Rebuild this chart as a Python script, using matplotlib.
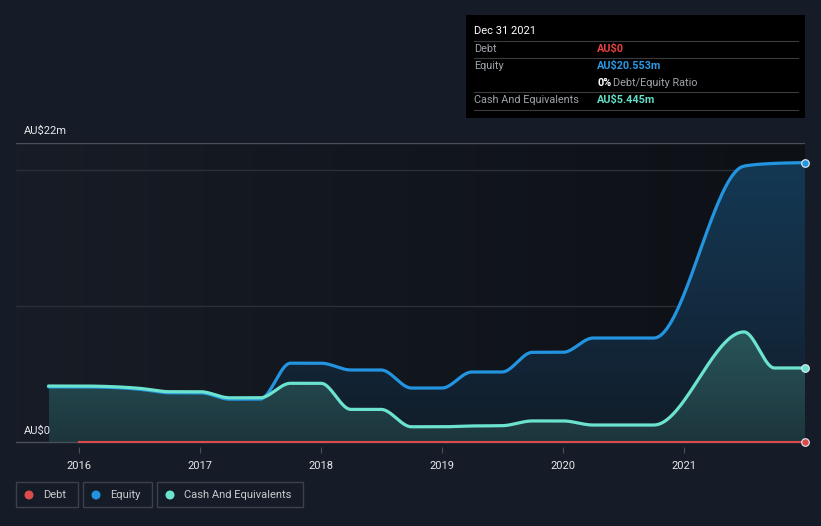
import numpy as np
import pandas as pd
import matplotlib
matplotlib.use("Agg")
import matplotlib.pyplot as plt
from matplotlib.colors import LinearSegmentedColormap
from matplotlib.patches import PathPatch, Rectangle, Ellipse
from matplotlib.path import Path

plt.rcParams['font.family'] = ['Roboto', 'DejaVu Sans']

# -------- DATA (AU$ millions, report dates) --------
fechas = ["2015-09-30", "2015-12-31", "2016-03-31", "2016-06-30", "2016-09-30",
          "2016-12-31", "2017-03-31", "2017-06-30", "2017-09-30", "2017-12-31",
          "2018-03-31", "2018-06-30", "2018-09-30", "2018-12-31", "2019-03-31",
          "2019-06-30", "2019-09-30", "2019-12-31", "2020-03-31", "2020-06-30",
          "2020-09-30", "2021-06-30", "2021-09-30", "2021-12-31"]
equity = [4.05, 4.05, 4.02, 3.88, 3.62, 3.62, 3.15, 3.15, 5.8, 5.8,
          5.3, 5.3, 3.97, 3.97, 5.15, 5.15, 6.6, 6.6, 7.65, 7.65,
          7.65, 20.3, 20.5, 20.553]
cash = [4.12, 4.12, 4.08, 3.95, 3.7, 3.7, 3.25, 3.25, 4.32, 4.32,
        2.4, 2.4, 1.12, 1.12, 1.18, 1.2, 1.55, 1.55, 1.25, 1.25,
        1.25, 8.1, 5.445, 5.445]
debt_fechas = fechas[1:]
debt = [0.0] * len(debt_fechas)

year_ticks = [2016, 2017, 2018, 2019, 2020, 2021]
y_max = 22

W, H = 821, 526
BG = "#161c27"
C_DEBT = "#dc4b4b"
C_EQ = "#2394df"
C_CASH = "#6ce3cf"


def dec_year(fs):
    d = pd.to_datetime(pd.Series(fs))
    return (d.dt.year + d.dt.dayofyear / 365.0).to_numpy()


def monotone(x, y, n=40):
    # misma logica que d3.curveMonotoneX
    x = np.asarray(x, float)
    y = np.asarray(y, float)
    h = np.diff(x)
    s = np.diff(y) / h
    m = np.zeros_like(y)
    for i in range(1, len(y) - 1):
        p = (s[i - 1] * h[i] + s[i] * h[i - 1]) / (h[i - 1] + h[i])
        m[i] = (np.sign(s[i - 1]) + np.sign(s[i])) * min(abs(s[i - 1]), abs(s[i]), 0.5 * abs(p))
    m[0] = (3 * s[0] - m[1]) / 2
    m[-1] = (3 * s[-1] - m[-2]) / 2
    xs, ys = [], []
    for i in range(len(h)):
        t = np.linspace(0, 1, n, endpoint=False)
        h00 = 2 * t**3 - 3 * t**2 + 1
        h10 = t**3 - 2 * t**2 + t
        h01 = -2 * t**3 + 3 * t**2
        h11 = t**3 - t**2
        xs.append(x[i] + t * h[i])
        ys.append(h00 * y[i] + h10 * h[i] * m[i] + h01 * y[i + 1] + h11 * h[i] * m[i + 1])
    xs.append([x[-1]])
    ys.append([y[-1]])
    return np.concatenate(xs), np.concatenate(ys)


def px(x, y):
    return x / W, 1 - y / H


x = dec_year(fechas)
xd = dec_year(debt_fechas)

# pixeles: 2016 -> 79, 2022 -> 805
ppy = (805 - 79) / 6.0
x_right = x[-1]
x_left = 2016 - (79 - 16) / ppy
ppm = (442 - 143) / y_max
y_bot = -(447 - 442) / ppm

fig = plt.figure(figsize=(W / 100, H / 100), dpi=100, facecolor=BG)
ax = fig.add_axes([16 / W, (H - 447) / H, (805 - 16) / W, (447 - 143) / H])
ax.set_facecolor(BG)

# fondo del area del grafico (degradado horizontal)
bg_cmap = LinearSegmentedColormap.from_list("bg", ["#171c26", "#0d1015"])
ax.imshow(np.linspace(0, 1, 256).reshape(1, -1), cmap=bg_cmap, aspect="auto",
          extent=[x_left, x_right, 0, y_max], origin="lower", zorder=0)

for g in [10, 20]:
    ax.axhline(g, color="#2a2f38", lw=1, zorder=1)
ax.axhline(y_max, color="#4a4f59", lw=1, zorder=1)


def grad_fill(xs, ys, colors, z):
    verts = np.column_stack([np.r_[xs, xs[-1], xs[0]], np.r_[ys, 0, 0]])
    patch = PathPatch(Path(verts), facecolor="none", edgecolor="none",
                      transform=ax.transData)
    ax.add_patch(patch)
    cmap = LinearSegmentedColormap.from_list("f", colors)
    im = ax.imshow(np.linspace(0, 1, 256).reshape(-1, 1), cmap=cmap, aspect="auto",
                   extent=[xs[0], xs[-1], 0, y_max], origin="lower", zorder=z)
    im.set_clip_path(patch)


ex, ey = monotone(x, equity)
cx, cy = monotone(x, cash)

grad_fill(ex, ey, ["#111c28", "#132c42", "#143a56"], 2)
grad_fill(cx, cy, ["#1d353d", "#2c6163", "#35797a"], 3)

ax.axhline(0, color="#4a4f59", lw=1, zorder=4)

ax.plot(ex, ey, color=C_EQ, lw=2.3, zorder=5, solid_capstyle="round")
ax.plot(cx, cy, color=C_CASH, lw=2.3, zorder=6, solid_capstyle="round")
ax.plot(xd, debt, color=C_DEBT, lw=1.5, zorder=7)

for xv, yv, c in [(x[-1], equity[-1], C_EQ), (x[-1], cash[-1], C_CASH),
                  (xd[-1], debt[-1], C_DEBT)]:
    ax.scatter([xv], [yv], s=30, color=c, edgecolor="#e8eef5", linewidth=0.8,
               zorder=8, clip_on=False)

ax.set_xlim(x_left, x_right)
ax.set_ylim(y_bot, y_max)
ax.set_yticks([])
ax.set_xticks(year_ticks)
ax.set_xticklabels([str(t) for t in year_ticks], color="#e6e8eb", fontsize=8)
ax.tick_params(axis="x", length=4, color="#4a4f59", pad=6)
for s in ax.spines.values():
    s.set_visible(False)

fig.text(*px(24, 131), "AU$22m", color="#e6e8eb", fontsize=8, va="center")
fig.text(*px(24, 431), "AU$0", color="#e6e8eb", fontsize=8, va="center")

# -------- TOOLTIP --------
fig.patches.append(Rectangle(px(466, 118), (805 - 466) / W, (118 - 15) / H,
                             transform=fig.transFigure, facecolor="#000000",
                             edgecolor="none", zorder=10))
for yy in [41, 58, 92, 110]:
    fig.lines.append(plt.Line2D([474 / W, 798 / W], [1 - yy / H] * 2,
                                transform=fig.transFigure, color="#3a3b3d",
                                lw=0.8, zorder=11))
fig.text(*px(474, 31), "Dec 31 2021", color="#ffffff", fontsize=8, va="center", zorder=12)
rows = [(49, "Debt", "AU$0", "#e8403f"),
        (66, "Equity", "AU$20.553m", "#2a98e4"),
        (100, "Cash And Equivalents", "AU$5.445m", "#62dcc6")]
for yy, lab, val, c in rows:
    fig.text(*px(474, yy), lab, color="#9fa3a9", fontsize=7.8, va="center", zorder=12)
    fig.text(*px(597, yy), val, color=c, fontsize=7.8, va="center",
             fontweight="bold", zorder=12)
fig.text(*px(597, 83), "0%", color="#ffffff", fontsize=7.8, va="center",
         fontweight="bold", zorder=12)
fig.text(*px(613, 83), "Debt/Equity Ratio", color="#9fa3a9", fontsize=7.8,
         va="center", zorder=12)

# -------- LEYENDA --------
legend = [(16, 78, "Debt", C_DEBT), (83, 152, "Equity", C_EQ),
          (157, 303, "Cash And Equivalents", C_CASH)]
for x0, x1, lab, c in legend:
    fig.patches.append(Rectangle(px(x0, 507), (x1 - x0) / W, 25 / H,
                                 transform=fig.transFigure, facecolor="none",
                                 edgecolor="#3b404b", lw=1))
    fig.patches.append(Ellipse(px(x0 + 13, 495), 9 / W, 9 / H,
                               transform=fig.transFigure,
                               facecolor=c, edgecolor="none"))
    fig.text(*px(x0 + 27, 495), lab, color="#c8cbd0", fontsize=8, va="center")

fig.savefig("out.png", dpi=100, facecolor=BG)
